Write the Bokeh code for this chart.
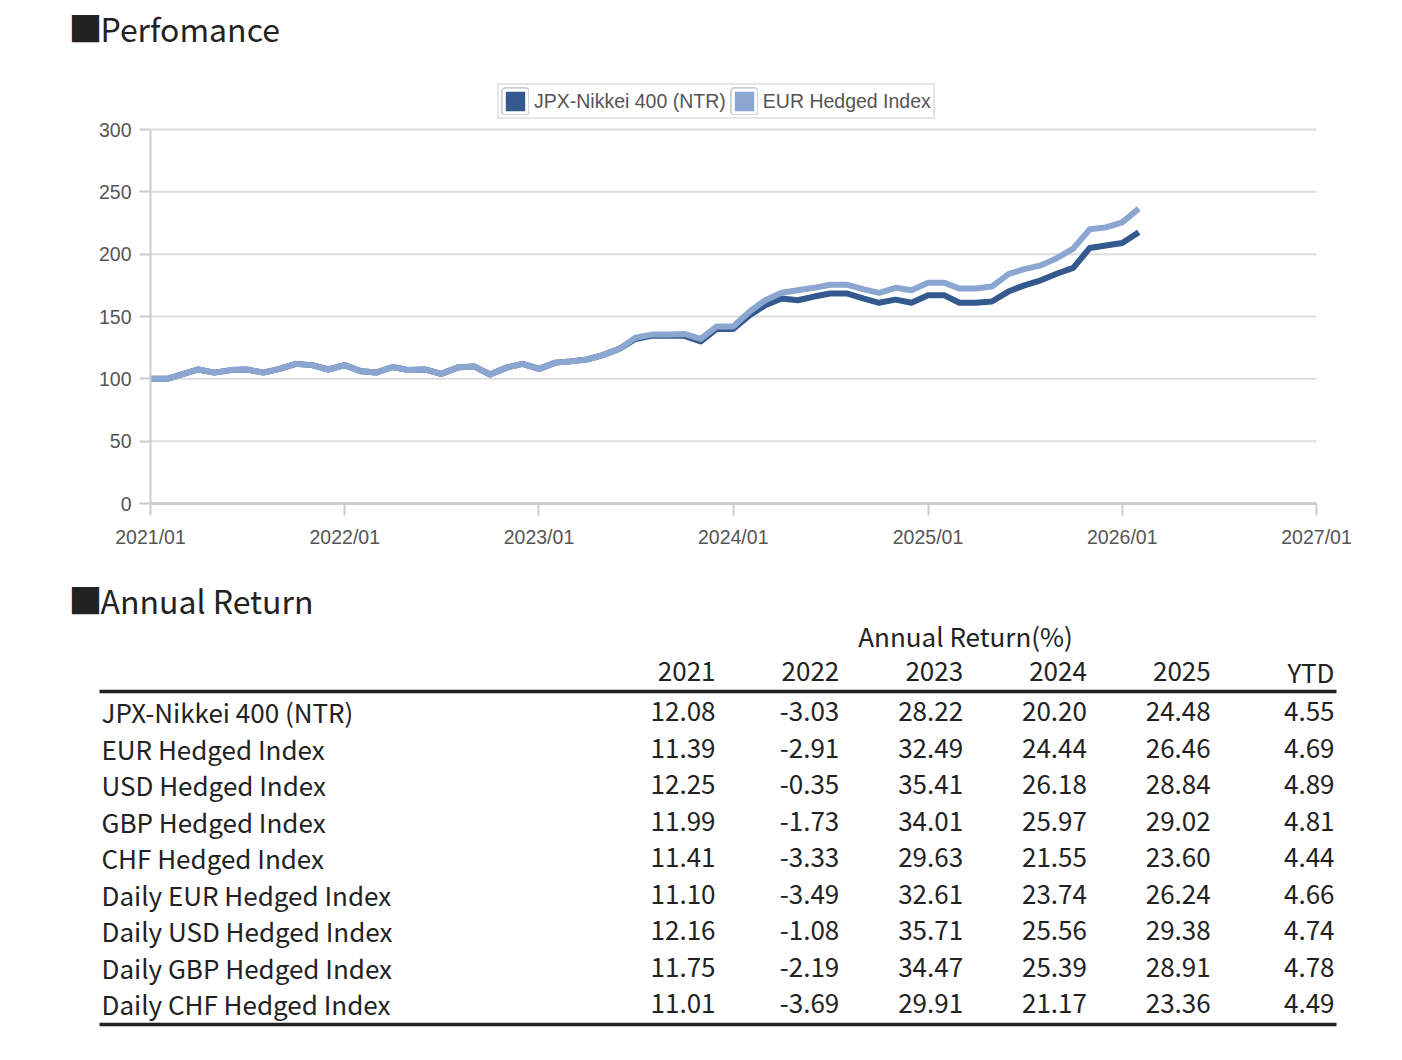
import pandas as pd
from bokeh.plotting import figure
from bokeh.models import Range1d, FixedTicker, DatetimeTickFormatter, Legend, LegendItem
from bokeh.embed import file_html
from bokeh.resources import INLINE
from bokeh.core.properties import value

# ---------------- data ----------------
months = pd.date_range("2021-01-01", periods=62, freq="MS")

eur_values = [
    100, 100, 103.5, 107.5, 105, 107, 107.5, 105, 108, 112, 111, 107.5,
    111, 106, 105, 109.5, 107, 107.5, 104, 109, 110, 103.5, 109, 112,
    108, 113, 114, 115.5, 119, 124, 133, 135.5, 135.5, 136, 132, 142,
    142, 154, 163, 169, 171, 173, 175.5, 175.5, 172, 169, 173, 171,
    177, 177, 172.5, 172.5, 174, 184, 188, 191, 197, 204.5, 220, 221.5,
    225.5, 236.5,
]
jpx_values = [
    100, 100, 103.5, 107.5, 105, 107, 107.5, 105, 108, 112, 111, 107.5,
    111, 106, 105, 109.5, 107, 107.5, 104, 109, 110, 103.5, 109, 112,
    108, 113, 114, 115.5, 119, 124, 132, 134.5, 134.5, 134.5, 130, 140,
    140, 151, 159, 164.5, 163, 166, 168.5, 168.5, 164.5, 161, 163.5, 161,
    167, 167, 161, 161, 162, 170, 175, 179, 184.5, 189, 205, 207,
    209, 217.5,
]
series_names = ["JPX-Nikkei 400 (NTR)", "EUR Hedged Index"]
y_ticks = [0, 50, 100, 150, 200, 250, 300]
x_tick_years = [2021, 2022, 2023, 2024, 2025, 2026, 2027]

row_names = [
    "JPX-Nikkei 400 (NTR)", "EUR Hedged Index", "USD Hedged Index",
    "GBP Hedged Index", "CHF Hedged Index", "Daily EUR Hedged Index",
    "Daily USD Hedged Index", "Daily GBP Hedged Index", "Daily CHF Hedged Index",
]
col_labels = ["2021", "2022", "2023", "2024", "2025", "YTD"]
ret_2021 = [12.08, 11.39, 12.25, 11.99, 11.41, 11.10, 12.16, 11.75, 11.01]
ret_2022 = [-3.03, -2.91, -0.35, -1.73, -3.33, -3.49, -1.08, -2.19, -3.69]
ret_2023 = [28.22, 32.49, 35.41, 34.01, 29.63, 32.61, 35.71, 34.47, 29.91]
ret_2024 = [20.20, 24.44, 26.18, 25.97, 21.55, 23.74, 25.56, 25.39, 21.17]
ret_2025 = [24.48, 26.46, 28.84, 29.02, 23.60, 26.24, 29.38, 28.91, 23.36]
ret_ytd = [4.55, 4.69, 4.89, 4.81, 4.44, 4.66, 4.74, 4.78, 4.49]
table_cols = [ret_2021, ret_2022, ret_2023, ret_2024, ret_2025, ret_ytd]

# ---------------- layout constants (page pixels) ----------------
W, H = 1386, 1044
PX_LEFT, PX_RIGHT = 150, 1316      # chart frame left/right
PX_TOP, PX_BOTTOM = 129, 503       # chart frame top (y=300) / bottom (y=0)
CJK = "Noto Sans CJK JP"
TXT = "#222222"
DARK = "#34598e"
LIGHT = "#8ba7d1"
AXIS_FONT = "19.5px"

t0 = pd.Timestamp(f"{x_tick_years[0]}-01-01").value / 1e6
t1 = pd.Timestamp(f"{x_tick_years[-1]}-01-01").value / 1e6
ms_per_px = (t1 - t0) / (PX_RIGHT - PX_LEFT)
x_start = t0 - PX_LEFT * ms_per_px
x_end = t0 + (W - PX_LEFT) * ms_per_px
v_per_px = (y_ticks[-1] - y_ticks[0]) / (PX_BOTTOM - PX_TOP)
y_start = y_ticks[0] - (H - PX_BOTTOM) * v_per_px
y_end = y_ticks[0] + PX_BOTTOM * v_per_px

p = figure(width=W, height=H, output_backend="svg", toolbar_location=None,
           x_axis_type="datetime",
           x_range=Range1d(x_start, x_end), y_range=Range1d(y_start, y_end),
           min_border=0, outline_line_color=None)
p.extra_x_ranges = {"px": Range1d(0, W)}
p.extra_y_ranges = {"py": Range1d(H, 0)}
p.grid.visible = False

# axes placed at the chart's own origin
p.yaxis.fixed_location = t0
p.xaxis.fixed_location = y_ticks[0]
p.yaxis.bounds = (y_ticks[0], y_ticks[-1])
p.xaxis.bounds = (t0, t1)
p.yaxis.ticker = FixedTicker(ticks=y_ticks)
p.xaxis.ticker = FixedTicker(ticks=[pd.Timestamp(f"{y}-01-01").value / 1e6 for y in x_tick_years])
fmt = "%Y/%m"
p.xaxis.formatter = DatetimeTickFormatter(years=fmt, months=fmt, days=fmt, hours=fmt,
                                          minutes=fmt, seconds=fmt, milliseconds=fmt,
                                          microseconds=fmt, minsec=fmt, hourmin=fmt)
for ax in (p.xaxis[0], p.yaxis[0]):
    ax.major_label_text_font = "Liberation Sans"
    ax.major_label_text_font_size = AXIS_FONT
    ax.major_label_text_color = "#555555"
    ax.major_tick_in = 0
    ax.major_tick_line_color = "#cccccc"
    ax.major_tick_line_width = 2
    ax.minor_tick_line_color = None
    ax.axis_line_color = "#cccccc"
p.yaxis.major_tick_out = 11
p.yaxis.major_label_standoff = 8
p.yaxis.axis_line_width = 2
p.xaxis.major_tick_out = 12
p.xaxis.major_label_standoff = 10
p.xaxis.axis_line_width = 3

# horizontal grid lines across the chart's time span
gy = y_ticks[1:]
p.segment(x0=[t0] * len(gy), x1=[t1] * len(gy), y0=gy, y1=gy,
          line_color="#dddddd", line_width=2)

r_jpx = p.line(months, jpx_values, line_color=DARK, line_width=6, line_join="round")
r_eur = p.line(months, eur_values, line_color=LIGHT, line_width=6, line_join="round")

# legend swatches (framed squares); proxy glyphs sit outside the visible range
off_y = [y_start - 1000]
items = []
for name, col in zip(series_names, [DARK, LIGHT]):
    frame_r = p.rect(x=[t0], y=off_y, width=1, height=1, fill_color=None,
                     line_color="#cccccc", line_width=7)
    sw_r = p.rect(x=[t0], y=off_y, width=1, height=1, fill_color=col,
                  line_color="white", line_width=3)
    items.append(LegendItem(label=name, renderers=[frame_r, sw_r]))
legend = Legend(items=items, orientation="horizontal", location=(497, H - 87 - 32),
                glyph_width=28, glyph_height=28, padding=2, spacing=4, margin=0,
                label_standoff=5, label_text_font="Liberation Sans",
                label_text_font_size=AXIS_FONT, label_text_color="#555555",
                border_line_color="#cccccc", border_line_width=2,
                background_fill_color="white", background_fill_alpha=1)
p.add_layout(legend, "center")

# ---------------- titles & table (page-pixel coordinates) ----------------
pg = dict(x_range_name="px", y_range_name="py")


def txt(x, y, t, size, align="left"):
    p.text(x=x, y=y, text=t, text_font=value(CJK), text_font_size=size,
           text_color=TXT, text_baseline="middle", text_align=align, **pg)


for ty, title in [(27, "Perfomance"), (599, "Annual Return")]:
    txt([68], [ty], ["■"], "34px")
    txt([100], [ty], [title], "32px")

txt([965], [635], ["Annual Return(%)"], "26px", "center")
col_x = [715 + 123.8 * i for i in range(len(col_labels))]
txt(col_x, [671] * len(col_labels), col_labels, "26px", "right")
row_y = [711 + 36.5 * i for i in range(len(row_names))]
txt([101] * len(row_names), row_y, row_names, "26px")
for cx, vals in zip(col_x, table_cols):
    txt([cx] * len(vals), row_y, [f"{v:.2f}" for v in vals], "26px", "right")
p.segment(x0=[99, 99], y0=[691, 1024], x1=[1336, 1336], y1=[691, 1024],
          line_color=TXT, line_width=3.5, **pg)

open("out.html", "w").write(file_html(p, INLINE))
